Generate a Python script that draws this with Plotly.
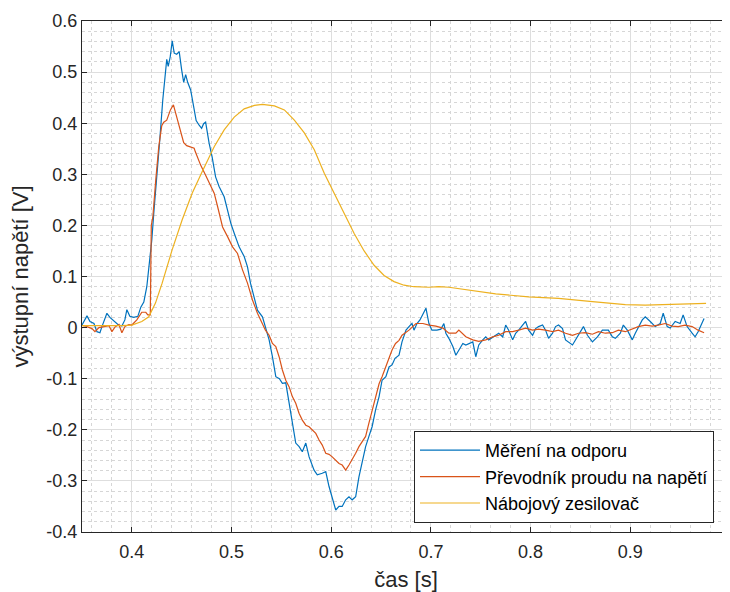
import plotly.graph_objects as go

# ---- data ----
blue_x = [0.350, 0.355, 0.358, 0.362, 0.365, 0.368, 0.370, 0.375, 0.378, 0.382, 0.386, 0.390, 0.393, 0.395,
          0.398, 0.402, 0.406, 0.409, 0.412, 0.415, 0.418, 0.420, 0.422, 0.425, 0.428, 0.431, 0.433, 0.435,
          0.4365, 0.4385, 0.4405, 0.4425, 0.445, 0.4475, 0.450, 0.452, 0.454, 0.456, 0.459, 0.4625, 0.4645,
          0.4675, 0.470, 0.472, 0.474, 0.4775, 0.4805, 0.484, 0.4875, 0.4926, 0.4959, 0.4993, 0.5026, 0.5076,
          0.5127, 0.516, 0.519, 0.5227, 0.526, 0.531, 0.534, 0.5377, 0.541, 0.5444, 0.548, 0.551, 0.5544,
          0.5578, 0.561, 0.5644, 0.5678, 0.571, 0.5745, 0.5778, 0.5828, 0.586, 0.591, 0.5945, 0.5978, 0.601,
          0.6045, 0.6078, 0.611, 0.6145, 0.6178, 0.621, 0.6245, 0.6278, 0.631, 0.6345, 0.6378, 0.641, 0.6445,
          0.648, 0.651, 0.6548, 0.658, 0.661, 0.664, 0.668, 0.671, 0.675, 0.678, 0.681, 0.683, 0.686, 0.689,
          0.693, 0.695, 0.698, 0.701, 0.706, 0.710, 0.713, 0.715, 0.718, 0.722, 0.725, 0.728, 0.732, 0.735,
          0.738, 0.742, 0.745, 0.748, 0.752, 0.755, 0.758, 0.762, 0.765, 0.768, 0.772, 0.775, 0.778, 0.782,
          0.785, 0.788, 0.795, 0.798, 0.802, 0.805, 0.808, 0.812, 0.815, 0.818, 0.822, 0.825, 0.828, 0.832,
          0.835, 0.842, 0.845, 0.848, 0.853, 0.857, 0.862, 0.867, 0.872, 0.878, 0.882, 0.885, 0.890, 0.893,
          0.897, 0.902, 0.905, 0.912, 0.915, 0.920, 0.925, 0.930, 0.933, 0.937, 0.940, 0.945, 0.950, 0.953,
          0.957, 0.962, 0.965, 0.968, 0.974]
blue_y = [0.005, 0.023, 0.012, 0.008, -0.008, -0.010, 0.002, 0.028, 0.020, 0.012, 0.006, 0.003, 0.015, 0.035,
          0.022, 0.020, 0.022, 0.040, 0.050, 0.080, 0.132, 0.171, 0.224, 0.289, 0.367, 0.445, 0.491, 0.525,
          0.511, 0.530, 0.561, 0.537, 0.535, 0.540, 0.504, 0.480, 0.495, 0.480, 0.465, 0.425, 0.405,
          0.396, 0.390, 0.399, 0.402, 0.361, 0.334, 0.295, 0.276, 0.256, 0.230, 0.204, 0.185, 0.158,
          0.139, 0.119, 0.087, 0.060, 0.034, 0.021, 0.002, -0.024, -0.057, -0.096, -0.100, -0.109, -0.108,
          -0.148, -0.181, -0.226, -0.233, -0.243, -0.226, -0.253, -0.279, -0.288, -0.285, -0.282, -0.311, -0.331,
          -0.357, -0.350, -0.350, -0.337, -0.331, -0.337, -0.331, -0.292, -0.266, -0.233, -0.213, -0.194, -0.161,
          -0.135, -0.103, -0.096, -0.077, -0.073, -0.060, -0.054, -0.028, -0.005, 0.002, 0.008, -0.005, 0.008, 0.015,
          0.031, 0.038, 0.008, -0.005, -0.005, -0.003, 0.008, -0.011, -0.021, -0.037, -0.054, -0.044, -0.031, -0.034,
          -0.031, -0.028, -0.057, -0.034, -0.024, -0.018, -0.024, -0.018, -0.015, -0.011, -0.018, 0.005, -0.005, -0.024,
          -0.011, -0.005, 0.012, -0.005, -0.015, -0.002, 0.002, 0.005, -0.005, -0.021, -0.011, 0.002, 0.005, -0.002,
          -0.024, -0.034, -0.024, -0.015, 0.002, -0.015, -0.028, -0.018, -0.005, -0.005, -0.018, -0.021, -0.011, 0.005,
          -0.005, -0.024, -0.011, 0.015, 0.021, 0.012, 0.002, 0.008, 0.028, 0.002, -0.001, 0.012, 0.008, 0.025,
          0.002, -0.011, -0.018, -0.008, 0.018]

orange_x = [0.350, 0.355, 0.360, 0.363, 0.367, 0.372, 0.377, 0.380, 0.383, 0.387, 0.390, 0.393, 0.397, 0.400,
            0.405, 0.410, 0.414, 0.416, 0.4185, 0.4195, 0.421, 0.424, 0.427, 0.430, 0.432, 0.435, 0.4387, 0.4417,
            0.445, 0.449, 0.452, 0.455, 0.459, 0.4625, 0.4637, 0.467, 0.469, 0.474, 0.479, 0.4826, 0.486, 0.491,
            0.496, 0.501, 0.506, 0.511, 0.516, 0.521, 0.526, 0.531, 0.534, 0.5377, 0.541, 0.5444, 0.5477, 0.551,
            0.5544, 0.5578, 0.561, 0.5644, 0.5678, 0.571, 0.5745, 0.5778, 0.581, 0.5845, 0.5878, 0.591, 0.5945,
            0.5978, 0.601, 0.6045, 0.6078, 0.611, 0.6145, 0.6178, 0.621, 0.6245, 0.6278, 0.631, 0.6345, 0.6378,
            0.641, 0.6445, 0.648, 0.651, 0.6548, 0.658, 0.661, 0.6645, 0.668, 0.671, 0.678, 0.685, 0.692, 0.698,
            0.705, 0.712, 0.718, 0.725, 0.728, 0.735, 0.742, 0.748, 0.755, 0.762, 0.768, 0.775, 0.782, 0.788,
            0.795, 0.802, 0.808, 0.815, 0.822, 0.828, 0.835, 0.842, 0.848, 0.855, 0.862, 0.868, 0.875, 0.882,
            0.888, 0.895, 0.902, 0.908, 0.915, 0.922, 0.928, 0.935, 0.942, 0.948, 0.955, 0.962, 0.968, 0.974]
orange_y = [0.000, 0.002, -0.002, -0.008, 0.000, 0.002, 0.004, -0.008, 0.001, 0.006, -0.010, 0.002, 0.006, 0.005,
            0.015, 0.030, 0.030, 0.025, 0.025, 0.200, 0.215, 0.289, 0.354, 0.395, 0.402, 0.406, 0.426, 0.436,
            0.413, 0.380, 0.362, 0.356, 0.354, 0.351, 0.344, 0.328, 0.318, 0.298, 0.276, 0.263, 0.237, 0.197,
            0.178, 0.158, 0.145, 0.113, 0.087, 0.054, 0.028, 0.008, -0.005, -0.015, -0.031, -0.037, -0.057, -0.083,
            -0.103, -0.116, -0.135, -0.148, -0.168, -0.181, -0.191, -0.194, -0.200, -0.207, -0.220, -0.230, -0.246,
            -0.248, -0.253, -0.259, -0.266, -0.269, -0.279, -0.269, -0.259, -0.246, -0.233, -0.223, -0.213, -0.187,
            -0.161, -0.135, -0.110, -0.096, -0.077, -0.060, -0.044, -0.031, -0.025, -0.015, -0.005, 0.008, 0.008, 0.005,
            0.003, -0.001, -0.011, -0.011, -0.005, -0.018, -0.024, -0.027, -0.024, -0.018, -0.015, -0.008, -0.008, -0.005,
            -0.001, -0.005, -0.003, -0.005, -0.008, -0.005, -0.011, -0.015, -0.011, -0.010, -0.013, -0.008, -0.011, -0.010,
            -0.005, -0.008, -0.003, 0.002, 0.005, 0.003, 0.005, 0.008, 0.003, 0.002, 0.005, 0.002, -0.005, -0.010]

yellow_x = [0.350, 0.360, 0.370, 0.380, 0.390, 0.400, 0.410, 0.417, 0.4237, 0.4304, 0.4404, 0.4505, 0.4605,
            0.4705, 0.4826, 0.4926, 0.5027, 0.5127, 0.523, 0.531, 0.543, 0.553, 0.563, 0.573, 0.583, 0.593,
            0.603, 0.613, 0.623, 0.633, 0.643, 0.653, 0.663, 0.673, 0.683, 0.698, 0.708, 0.718, 0.735, 0.765,
            0.798, 0.828, 0.862, 0.895, 0.915, 0.929, 0.955, 0.976]
yellow_y = [0.004, 0.004, 0.003, 0.003, 0.004, 0.005, 0.012, 0.021, 0.048, 0.087, 0.152, 0.211, 0.263,
            0.305, 0.354, 0.387, 0.412, 0.428, 0.435, 0.437, 0.434, 0.426, 0.406, 0.381, 0.348, 0.302,
            0.262, 0.222, 0.184, 0.150, 0.122, 0.102, 0.090, 0.083, 0.080, 0.079, 0.080, 0.079, 0.074, 0.066,
            0.060, 0.057, 0.051, 0.045, 0.044, 0.045, 0.047, 0.0475]

series_names = ["Měření na odporu", "Převodník proudu na napětí", "Nábojový zesilovač"]
x_ticks = [0.4, 0.5, 0.6, 0.7, 0.8, 0.9, 1.0]
x_ticktext = ["0.4", "0.5", "0.6", "0.7", "0.8", "0.9", "1"]
y_ticks = [-0.4, -0.3, -0.2, -0.1, 0.0, 0.1, 0.2, 0.3, 0.4, 0.5, 0.6]
y_ticktext = ["-0.4", "-0.3", "-0.2", "-0.1", "0", "0.1", "0.2", "0.3", "0.4", "0.5", "0.6"]

colors = ["#0072BD", "#D95319", "#EDB120"]
FONT = "Liberation Sans, Arial, Helvetica, sans-serif"
AX = "#262626"

fig = go.Figure()
for xs, ys, name, col in [(blue_x, blue_y, series_names[0], colors[0]),
                          (orange_x, orange_y, series_names[1], colors[1]),
                          (yellow_x, yellow_y, series_names[2], colors[2])]:
    fig.add_trace(go.Scatter(x=xs, y=ys, mode="lines", name=name,
                             line=dict(color=col, width=1.2)))

axis_common = dict(
    showline=True, linecolor=AX, linewidth=1, mirror="ticks",
    ticks="inside", ticklen=5, tickcolor=AX, tickwidth=1,
    showgrid=True, gridcolor="#dedede", gridwidth=1,
    zeroline=False,
    tickfont=dict(family=FONT, size=18, color=AX),
    ticklabeloverflow="allow",
)
minor_grid = dict(dtick=0.02, tick0=0, showgrid=True, gridcolor="#d6d6d6",
                  griddash="dot", gridwidth=1, ticks="")

fig.update_xaxes(range=[0.35, 1.0], tickvals=x_ticks, ticktext=x_ticktext, minor=minor_grid,
                 ticklabelstandoff=3,
                 title=dict(text="čas [s]", font=dict(family=FONT, size=22, color=AX), standoff=11),
                 automargin=False, **axis_common)
fig.update_yaxes(range=[-0.4, 0.6], tickvals=y_ticks, ticktext=y_ticktext, minor=minor_grid,
                 title=dict(text="výstupní napětí [V]", font=dict(family=FONT, size=22, color=AX), standoff=16),
                 automargin=False, **axis_common)

# the page body adds an 8px margin, so the figure is sized/offset to compensate
fig.update_layout(
    width=722, height=584,
    margin=dict(l=74, r=0, t=13, b=60),
    paper_bgcolor="white", plot_bgcolor="white",
    font=dict(family=FONT, color=AX),
    legend=dict(x=0.9753, y=0.1076, xanchor="right", yanchor="middle",
                bgcolor="white", bordercolor=AX, borderwidth=1,
                font=dict(family=FONT, size=18, color="#000000"),
                itemwidth=60, tracegroupgap=0),
    showlegend=True,
)

fig.write_html("out.html")
